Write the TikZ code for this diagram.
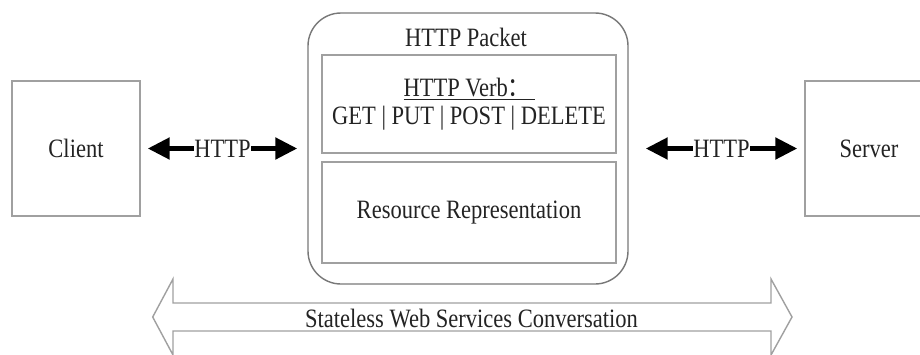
\documentclass[tikz,border=0pt]{standalone}
\usepackage{fontspec}
\setmainfont[FakeStretch=0.85]{Liberation Serif}
\newfontfamily\cjk[FakeStretch=0.85]{Noto Sans CJK SC}
\usetikzlibrary{arrows.meta}
\definecolor{boxgray}{RGB}{160,160,160}
\definecolor{pktgray}{RGB}{120,120,120}
\definecolor{txt}{RGB}{35,35,35}
\begin{document}
\begin{tikzpicture}[x=0.5pt,y=-0.5pt,
  every node/.style={font=\fontsize{13.25}{14}\selectfont, text=txt},
  endbox/.style={draw=boxgray, line width=0.7pt, minimum width=64pt, minimum height=67.5pt, inner sep=0pt},
  innerbox/.style={draw=boxgray, line width=0.7pt, minimum width=147pt, inner sep=0pt, align=center},
  httparrow/.style={line width=2.5pt, {Triangle[length=11pt,width=10.5pt]}-{Triangle[length=11pt,width=10.5pt]}},
  httplabel/.style={fill=white, inner xsep=0pt, inner ysep=1pt}
]
\clip (0,0) rectangle (920,354);
\fill[white] (0,0) rectangle (920,354);

\node[endbox] (client) at (76,148.5) {Client};
\node[endbox] (server) at (869,148.5) {Server};

\node[draw=pktgray, line width=0.7pt, rounded corners=16.5pt, minimum width=160pt, minimum height=135.5pt, inner sep=0pt] (packet) at (468,148.5) {};
\node (title) at (466,37) {HTTP Packet};
\node[innerbox, minimum height=49pt] (verb) at (469,104) {\underline{HTTP Verb{\cjk ：}\hspace{2pt}}\\GET | PUT | POST | DELETE};
\node[innerbox, minimum height=50.5pt] (res) at (469,212.5) {Resource Representation};

\draw[httparrow] ([xshift=3.5pt]client.east) -- node[httplabel] (h1) {HTTP} ([xshift=-5pt]packet.west);
\draw[httparrow] ([xshift=8.5pt]packet.east) -- node[httplabel] (h2) {HTTP} ([xshift=-3.5pt]server.west);

\draw[boxgray, line width=0.7pt, line join=miter]
  (152.7,317) -- (173,279) -- (173,303) -- (771,303) -- (771,279) -- (792,317)
  -- (771,355) -- (771,331) -- (173,331) -- (173,355) -- cycle;
\node (conv) at (471.5,318) {Stateless Web Services Conversation};
\end{tikzpicture}
\end{document}
